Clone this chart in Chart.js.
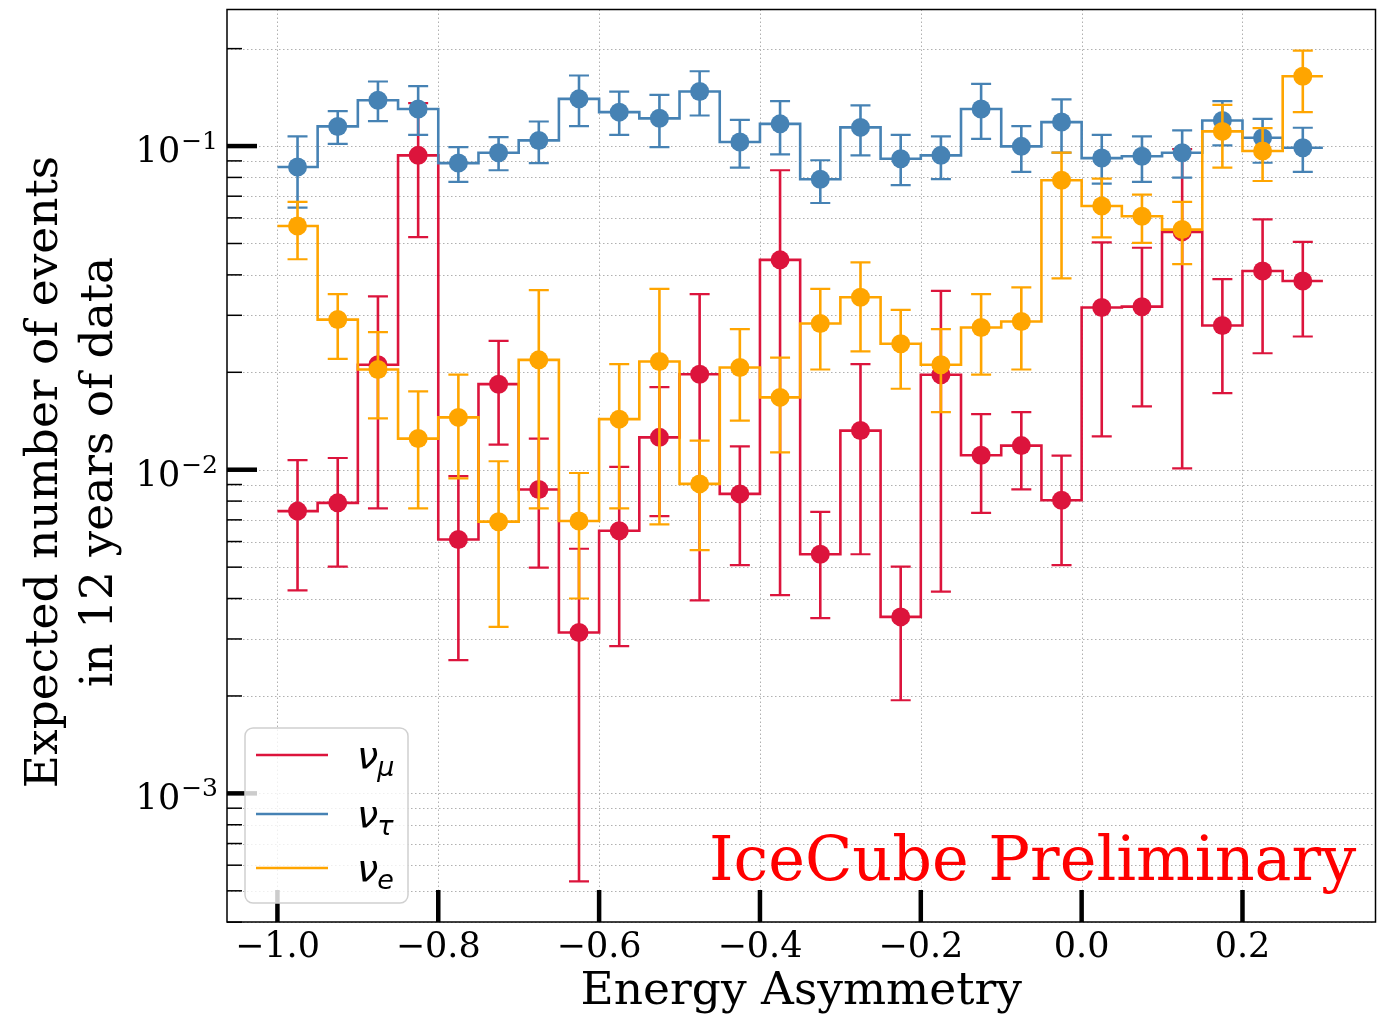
<!DOCTYPE html>
<html>
<head>
<meta charset="utf-8">
<script src="https://cdn.jsdelivr.net/npm/chart.js@4.4.0/dist/chart.umd.min.js"></script>
<style>
  html, body { margin: 0; padding: 0; background: #fff; }
  canvas { display: block; }
</style>
</head>
<body>
<canvas id="asym" width="1385" height="1016"></canvas>
<script>
// Bin edges of the energy asymmetry histogram
const binEdges = [-1.0, -0.95, -0.9, -0.85, -0.8, -0.75, -0.7, -0.65, -0.6, -0.55, -0.5, -0.45, -0.4,
  -0.35, -0.3, -0.25, -0.2, -0.15, -0.1, -0.05, 0.0, 0.05, 0.1, 0.15, 0.2, 0.25, 0.3];

// nu_mu
const numuVals = [0.00745, 0.00790, 0.0211, 0.0936, 0.00609, 0.01838, 0.00869, 0.00314, 0.00648, 0.01259,
  0.01973, 0.00842, 0.0445, 0.00548, 0.01321, 0.00351, 0.01966, 0.01108, 0.01187, 0.00805,
  0.0317, 0.0319, 0.0543, 0.0279, 0.0411, 0.0383];
const numuLo = [0.00424, 0.00502, 0.00760, 0.0523, 0.00258, 0.01196, 0.00498, 0.000535, 0.00285, 0.00719,
  0.00395, 0.00507, 0.00410, 0.00348, 0.00548, 0.00194, 0.00420, 0.00736, 0.00869, 0.00507,
  0.01268, 0.01570, 0.01009, 0.01724, 0.0229, 0.0258];
const numuHi = [0.01070, 0.01087, 0.0343, 0.1357, 0.00955, 0.0250, 0.01248, 0.00570, 0.0102, 0.0180,
  0.0349, 0.01181, 0.0842, 0.00741, 0.0212, 0.00502, 0.0357, 0.01486, 0.01507, 0.01106,
  0.0504, 0.0485, 0.0979, 0.0388, 0.0594, 0.0506];

// nu_tau
const nutauVals = [0.0862, 0.1150, 0.1386, 0.1302, 0.0886, 0.0954, 0.1041, 0.1399, 0.1273, 0.1218,
  0.1474, 0.1029, 0.1171, 0.0790, 0.1142, 0.0914, 0.0936, 0.1302, 0.0998, 0.1186,
  0.0918, 0.0930, 0.0954, 0.1200, 0.1061, 0.0988];
const nutauLo = [0.0645, 0.1016, 0.1194, 0.1083, 0.0775, 0.0842, 0.0886, 0.1152, 0.1083, 0.0993,
  0.1243, 0.0858, 0.0943, 0.0667, 0.0936, 0.0757, 0.0790, 0.1053, 0.0832, 0.0954,
  0.0765, 0.0775, 0.0799, 0.1005, 0.0888, 0.0832];
const nutauHi = [0.1071, 0.1282, 0.1583, 0.1531, 0.0993, 0.1066, 0.1191, 0.1652, 0.1474, 0.1439,
  0.1703, 0.1205, 0.1376, 0.0904, 0.1335, 0.1083, 0.1071, 0.1556, 0.1152, 0.1393,
  0.1083, 0.1071, 0.1118, 0.1376, 0.1214, 0.1139];

// nu_e
const nueVals = [0.0566, 0.0291, 0.0204, 0.01248, 0.01451, 0.00691, 0.02185, 0.00694, 0.01433, 0.02160,
  0.00904, 0.0207, 0.01673, 0.0283, 0.0341, 0.0245, 0.0211, 0.0275, 0.0287, 0.0784,
  0.0653, 0.0607, 0.0552, 0.1110, 0.0965, 0.1643];
const nueLo = [0.0447, 0.0220, 0.0144, 0.00760, 0.00940, 0.00327, 0.00760, 0.00400, 0.00760, 0.00678,
  0.00564, 0.01418, 0.01132, 0.0204, 0.0232, 0.01779, 0.01507, 0.01966, 0.0204, 0.0390,
  0.0522, 0.0502, 0.0432, 0.0858, 0.0780, 0.1273];
const nueHi = [0.0672, 0.0349, 0.0266, 0.01745, 0.01966, 0.01062, 0.0359, 0.00977, 0.0212, 0.0362,
  0.0123, 0.0272, 0.0222, 0.0362, 0.0437, 0.0312, 0.0272, 0.0349, 0.0366, 0.0954,
  0.0793, 0.0708, 0.0672, 0.1341, 0.1136, 0.1972];

// Axis ticks
const xTickValues = [-1.0, -0.8, -0.6, -0.4, -0.2, 0.0, 0.2];
const yTickValues = [4e-4, 5e-4, 6e-4, 7e-4, 8e-4, 9e-4,
  1e-3, 2e-3, 3e-3, 4e-3, 5e-3, 6e-3, 7e-3, 8e-3, 9e-3,
  1e-2, 2e-2, 3e-2, 4e-2, 5e-2, 6e-2, 7e-2, 8e-2, 9e-2,
  1e-1, 2e-1];
const yMajorTicks = [1e-3, 1e-2, 1e-1];
const yMajorExp = ["\u22123", "\u22122", "\u22121"];

const RED = "#dc143c", BLUE = "#4682b4", ORANGE = "#ffa500";
const SERIF = '"DejaVu Serif", serif';

const centers = binEdges.slice(0, -1).map((e, i) => (e + binEdges[i + 1]) / 2);

// Histogram outline: each left edge carries its bin value, last edge repeats the last bin
function stepPoints(vals) {
  return binEdges.map((e, i) => ({ x: e, y: vals[Math.min(i, vals.length - 1)] }));
}
function dotPoints(vals) {
  return centers.map((c, i) => ({ x: c, y: vals[i] }));
}

function stepSet(vals, color, order) {
  return {
    data: stepPoints(vals), showLine: true, stepped: "before", borderColor: color,
    borderWidth: 2.6, pointRadius: 0, fill: false, order
  };
}
function dotSet(vals, lo, hi, color, order) {
  return {
    data: dotPoints(vals), showLine: false, pointRadius: 9.5, pointHoverRadius: 9.5,
    backgroundColor: color, borderWidth: 0, errLo: lo, errHi: hi, errColor: color, order
  };
}

const legendRows = [
  { sym: "\u03bd", sub: "\u03bc", color: RED, y: 755 },
  { sym: "\u03bd", sub: "\u03c4", color: BLUE, y: 814 },
  { sym: "\u03bd", sub: "e", color: ORANGE, y: 868 }
];

const decorations = {
  id: "decorations",
  beforeDatasetsDraw(chart) {
    const { ctx, chartArea: a, scales: { x, y } } = chart;
    ctx.save();
    ctx.strokeStyle = "#b0b0b0";
    ctx.lineWidth = 1;
    ctx.setLineDash([1.5, 2.5]);
    yTickValues.forEach(v => {
      const py = Math.round(y.getPixelForValue(v)) + 0.5;
      ctx.beginPath(); ctx.moveTo(a.left, py); ctx.lineTo(a.right, py); ctx.stroke();
    });
    xTickValues.forEach(v => {
      const px = Math.round(x.getPixelForValue(v)) + 0.5;
      ctx.beginPath(); ctx.moveTo(px, a.top); ctx.lineTo(px, a.bottom); ctx.stroke();
    });
    ctx.restore();
  },
  beforeDatasetDraw(chart, args) {
    const ds = chart.data.datasets[args.index];
    if (!ds.errLo) return;
    const { ctx, scales: { x, y } } = chart;
    ctx.save();
    ctx.strokeStyle = ds.errColor;
    ds.data.forEach((p, i) => {
      const px = x.getPixelForValue(p.x);
      const top = y.getPixelForValue(ds.errHi[i]);
      const bot = y.getPixelForValue(ds.errLo[i]);
      ctx.lineWidth = 2.6;
      ctx.beginPath(); ctx.moveTo(px, top); ctx.lineTo(px, bot); ctx.stroke();
      ctx.lineWidth = 2.2;
      ctx.beginPath();
      ctx.moveTo(px - 10, top); ctx.lineTo(px + 10, top);
      ctx.moveTo(px - 10, bot); ctx.lineTo(px + 10, bot);
      ctx.stroke();
    });
    ctx.restore();
  },
  afterDatasetsDraw(chart) {
    const { ctx, chartArea: a, scales: { x, y } } = chart;
    ctx.save();

    // frame
    ctx.strokeStyle = "#000";
    ctx.lineWidth = 1.5;
    ctx.strokeRect(a.left, a.top, a.right - a.left, a.bottom - a.top);

    // inward ticks
    yTickValues.forEach(v => {
      const py = y.getPixelForValue(v);
      const major = yMajorTicks.includes(v);
      ctx.lineWidth = major ? 4.5 : 1.5;
      ctx.beginPath(); ctx.moveTo(a.left, py); ctx.lineTo(a.left + (major ? 30 : 15), py); ctx.stroke();
    });
    ctx.lineWidth = 4.5;
    xTickValues.forEach(v => {
      const px = x.getPixelForValue(v);
      ctx.beginPath(); ctx.moveTo(px, a.bottom); ctx.lineTo(px, a.bottom - 32); ctx.stroke();
    });

    // tick labels
    ctx.fillStyle = "#000";
    ctx.textAlign = "center";
    ctx.textBaseline = "alphabetic";
    ctx.font = "35px " + SERIF;
    xTickValues.forEach(v => {
      ctx.fillText(v.toFixed(1).replace("-", "\u2212"), x.getPixelForValue(v), 957);
    });
    ctx.textAlign = "right";
    yMajorTicks.forEach((v, i) => {
      const py = y.getPixelForValue(v);
      ctx.font = "25px " + SERIF;
      const w = ctx.measureText(yMajorExp[i]).width;
      ctx.fillText(yMajorExp[i], 218, py + 3);
      ctx.font = "35px " + SERIF;
      ctx.fillText("10", 217 - w, py + 16);
    });

    // axis titles
    ctx.textAlign = "center";
    ctx.font = "45.5px " + SERIF;
    ctx.fillText("Energy Asymmetry", (a.left + a.right) / 2, 1004);
    ["Expected number of events", "in 12 years of data"].forEach((line, i) => {
      ctx.save();
      ctx.translate(i === 0 ? 57 : 112, 472);
      ctx.rotate(-Math.PI / 2);
      ctx.fillText(line, 0, 0);
      ctx.restore();
    });

    // watermark
    ctx.textAlign = "left";
    ctx.fillStyle = "#ff0000";
    ctx.font = "62px " + SERIF;
    ctx.fillText("IceCube Preliminary", 709, 880);

    // legend
    ctx.beginPath();
    ctx.roundRect(245, 728, 163, 175, 8);
    ctx.fillStyle = "rgba(255,255,255,0.8)";
    ctx.fill();
    ctx.strokeStyle = "#d0d0d0";
    ctx.lineWidth = 1.5;
    ctx.stroke();
    legendRows.forEach(r => {
      ctx.strokeStyle = r.color;
      ctx.lineWidth = 2.6;
      ctx.beginPath(); ctx.moveTo(256, r.y); ctx.lineTo(328, r.y); ctx.stroke();
      ctx.fillStyle = "#000";
      ctx.font = 'italic 38px "DejaVu Sans"';
      ctx.fillText(r.sym, 357, r.y + 13);
      const w = ctx.measureText(r.sym).width;
      ctx.font = 'italic 27px "DejaVu Sans"';
      ctx.fillText(r.sub, 357 + w - 1, r.y + 21);
    });

    ctx.restore();
  }
};

const chart = new Chart(document.getElementById("asym"), {
  type: "scatter",
  data: {
    datasets: [
      stepSet(numuVals, RED, 6),
      dotSet(numuVals, numuLo, numuHi, RED, 5),
      stepSet(nutauVals, BLUE, 4),
      dotSet(nutauVals, nutauLo, nutauHi, BLUE, 3),
      stepSet(nueVals, ORANGE, 2),
      dotSet(nueVals, nueLo, nueHi, ORANGE, 1)
    ]
  },
  options: {
    responsive: false,
    animation: false,
    devicePixelRatio: 1,
    layout: { padding: { top: 5, right: 7, left: 0, bottom: 0 } },
    plugins: { legend: { display: false }, tooltip: { enabled: false } },
    scales: {
      x: {
        type: "linear", min: -1.0627, max: 0.3654,
        grid: { display: false }, border: { display: false }, ticks: { display: false },
        afterBuildTicks: s => { s.ticks = xTickValues.map(v => ({ value: v })); },
        afterFit: s => { s.height = 94; }
      },
      y: {
        type: "logarithmic", min: 4.005e-4, max: 0.2642,
        grid: { display: false }, border: { display: false }, ticks: { display: false },
        afterBuildTicks: s => { s.ticks = yTickValues.map(v => ({ value: v })); },
        afterFit: s => { s.width = 227; }
      }
    }
  },
  plugins: [decorations]
});
</script>
</body>
</html>
